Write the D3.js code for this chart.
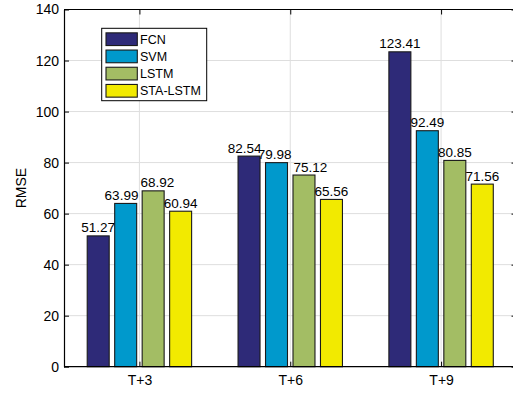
<!DOCTYPE html>
<html>
<head>
<meta charset="utf-8">
<script src="https://cdn.jsdelivr.net/npm/d3@7"></script>
<style>
  html, body { margin: 0; padding: 0; background: #fff; }
  svg { display: block; font-family: "Liberation Sans", Arial, Helvetica, sans-serif; }
</style>
</head>
<body>
<svg id="chart" width="513" height="394"></svg>
<script>
// Forecast horizons and the models compared at each one
const categories = ["T+3", "T+6", "T+9"];
const seriesNames = ["FCN", "SVM", "LSTM", "STA-LSTM"];

// RMSE per model, one value per horizon
const fcnValues = [51.27, 82.54, 123.41];
const svmValues = [63.99, 79.98, 92.49];
const lstmValues = [68.92, 75.12, 80.85];
const staLstmValues = [60.94, 65.56, 71.56];

const yTickValues = [0, 20, 40, 60, 80, 100, 120, 140];
const seriesColors = ["#2e2a78", "#0099cc", "#a3bd64", "#f2ea00"];

const seriesValues = [fcnValues, svmValues, lstmValues, staLstmValues];

// Flat table of bars built from the arrays above
const bars = [];
categories.forEach((cat, ci) => {
  seriesNames.forEach((name, si) => {
    bars.push({ cat, name, value: seriesValues[si][ci], color: seriesColors[si] });
  });
});

const svg = d3.select("#chart");
const plot = { left: 64, right: 516.5, top: 9.5, bottom: 366.7 };

const x0 = d3.scaleBand()
  .domain(categories)
  .range([plot.left, plot.right])
  .paddingInner(0)
  .paddingOuter(0);

const x1 = d3.scaleBand()
  .domain(seriesNames)
  .range([0, x0.bandwidth()])
  .paddingInner(0.2)
  .paddingOuter(0.845);

const y = d3.scaleLinear()
  .domain([0, 140])
  .range([plot.bottom, plot.top]);

const catCenter = c => x0(c) + x0.bandwidth() / 2;

// Grid lines
const grid = svg.append("g").attr("stroke", "#dedede").attr("stroke-width", 1);
grid.selectAll("line.h")
  .data(yTickValues.filter(v => v > 0 && v < 140))
  .join("line")
  .attr("class", "h")
  .attr("x1", plot.left).attr("x2", plot.right)
  .attr("y1", d => y(d)).attr("y2", d => y(d));
grid.selectAll("line.v")
  .data(categories)
  .join("line")
  .attr("class", "v")
  .attr("x1", d => catCenter(d)).attr("x2", d => catCenter(d))
  .attr("y1", plot.top).attr("y2", plot.bottom);

// Bars
svg.append("g")
  .selectAll("rect")
  .data(bars)
  .join("rect")
  .attr("x", d => x0(d.cat) + x1(d.name))
  .attr("y", d => y(d.value))
  .attr("width", x1.bandwidth())
  .attr("height", d => y(0) - y(d.value))
  .attr("fill", d => d.color)
  .attr("stroke", "#1a1a1a")
  .attr("stroke-width", 1.1);

// Value labels above the bars
const labels = svg.append("g")
  .selectAll("text")
  .data(bars)
  .join("text")
  .attr("x", d => x0(d.cat) + x1(d.name) + x1.bandwidth() / 2)
  .attr("y", d => y(d.value) - 3.5)
  .attr("text-anchor", "middle")
  .attr("font-size", "13.5px")
  .attr("fill", "#000")
  .text(d => d.value.toFixed(2));

// Push neighbouring labels apart when their boxes collide
const nodes = labels.nodes();
for (let i = 1; i < nodes.length; i++) {
  if (bars[i].cat !== bars[i - 1].cat) continue;
  const a = nodes[i - 1].getBBox();
  const b = nodes[i].getBBox();
  const vOverlap = Math.min(a.y + a.height, b.y + b.height) - Math.max(a.y, b.y);
  const hOverlap = a.x + a.width + 2 - b.x;
  if (vOverlap > 1 && hOverlap > 0) {
    const shift = hOverlap / 2;
    d3.select(nodes[i - 1]).attr("x", +nodes[i - 1].getAttribute("x") - shift);
    d3.select(nodes[i]).attr("x", +nodes[i].getAttribute("x") + shift);
  }
}

// Axes: ticks point inward on all four sides
const styleAxis = g => {
  g.selectAll("path.domain").attr("stroke", "#000").attr("stroke-width", 1.2);
  g.selectAll(".tick line").attr("stroke", "#000").attr("stroke-width", 1);
  g.selectAll(".tick text").attr("fill", "#000").attr("font-size", "14px")
    .attr("font-family", "'Liberation Sans', Arial, Helvetica, sans-serif");
};

svg.append("g")
  .attr("transform", `translate(${plot.left},0)`)
  .call(d3.axisLeft(y).tickValues(yTickValues).tickSize(-5).tickSizeOuter(0).tickPadding(5))
  .call(styleAxis);

svg.append("g")
  .attr("transform", `translate(${plot.right},0)`)
  .call(d3.axisRight(y).tickValues(yTickValues).tickSize(-5).tickSizeOuter(0).tickFormat(""))
  .call(styleAxis);

const xCenters = d3.scalePoint().domain(categories)
  .range([catCenter(categories[0]), catCenter(categories[categories.length - 1])]);

const bottomAxis = svg.append("g")
  .attr("transform", `translate(0,${plot.bottom})`)
  .call(d3.axisBottom(xCenters).tickSize(-5).tickSizeOuter(0).tickPadding(8))
  .call(styleAxis);
bottomAxis.select("path.domain").attr("d", `M${plot.left},0H${plot.right}`);

const topAxis = svg.append("g")
  .attr("transform", `translate(0,${plot.top})`)
  .call(d3.axisTop(xCenters).tickSize(-5).tickSizeOuter(0).tickFormat(""))
  .call(styleAxis);
topAxis.select("path.domain").attr("d", `M${plot.left},0H${plot.right}`);

// Y axis title
svg.append("text")
  .attr("transform", `translate(21,${(plot.top + plot.bottom) / 2}) rotate(-90)`)
  .attr("text-anchor", "middle")
  .attr("dy", "0.35em")
  .attr("font-size", "14px")
  .attr("fill", "#000")
  .text("RMSE");

// Legend
const legend = svg.append("g");
legend.append("rect")
  .attr("x", 101.7).attr("y", 28.3)
  .attr("width", 105).attr("height", 72.4)
  .attr("fill", "#fff").attr("stroke", "#000").attr("stroke-width", 1);

const legendRow = d3.scaleBand().domain(seriesNames).range([30.6, 99.4]);
const rows = legend.selectAll("g.row")
  .data(seriesNames)
  .join("g")
  .attr("class", "row")
  .attr("transform", d => `translate(0,${legendRow(d) + legendRow.bandwidth() / 2})`);
rows.append("rect")
  .attr("x", 106).attr("y", -6.35)
  .attr("width", 31.3).attr("height", 12.7)
  .attr("fill", (d, i) => seriesColors[i])
  .attr("stroke", "#1a1a1a").attr("stroke-width", 1.1);
rows.append("text")
  .attr("x", 140).attr("dy", "0.36em")
  .attr("font-size", "12.5px")
  .attr("fill", "#000")
  .text(d => d);
</script>
</body>
</html>
